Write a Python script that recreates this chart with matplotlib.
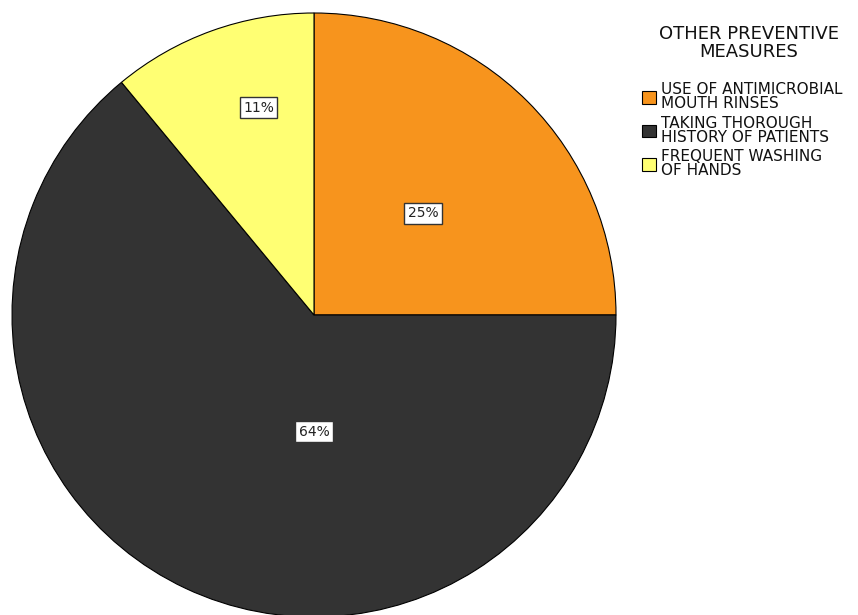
import matplotlib
matplotlib.use("Agg")
import matplotlib.pyplot as plt
import numpy as np

categories = ["USE OF ANTIMICROBIAL\nMOUTH RINSES",
              "TAKING THOROUGH\nHISTORY OF PATIENTS",
              "FREQUENT WASHING\nOF HANDS"]
values = [25, 64, 11]
pct_labels = ["25%", "64%", "11%"]
colors = ["#F7941D", "#333333", "#FFFF73"]

W, H = 858, 615
fig = plt.figure(figsize=(W / 100, H / 100), dpi=100)
cx, cy, r = 314, 315, 302
ax = fig.add_axes([(cx - r) / W, (H - cy - r) / H, 2 * r / W, 2 * r / H])
wedges, _ = ax.pie(values, colors=colors, startangle=90, counterclock=False,
                   radius=1, wedgeprops=dict(edgecolor="black", linewidth=0.8))
ax.set_xlim(-1, 1)
ax.set_ylim(-1, 1)
ax.set_aspect("equal")
ax.axis("off")

# label positions (angle in degrees, radius fraction)
label_pos = [(43, 0.494), (-90, 0.387), (105, 0.71)]
for txt, (ang, rad) in zip(pct_labels, label_pos):
    a = np.deg2rad(ang)
    ax.text(rad * np.cos(a), rad * np.sin(a), txt, ha="center", va="center",
            fontsize=10, family="DejaVu Sans", color="#222222",
            bbox=dict(boxstyle="square,pad=0.25", facecolor="white",
                      edgecolor="#333333", linewidth=1.0))

fig.text(749 / W, 1 - 43 / H, "OTHER PREVENTIVE\nMEASURES", ha="center",
         va="center", fontsize=13, linespacing=1.0, color="#111111")
leg = fig.legend(wedges, categories, loc="upper left",
                 bbox_to_anchor=(642 / W, 1 - 82 / H), frameon=False,
                 fontsize=11, handlelength=0.9, handleheight=0.9,
                 handletextpad=0.35, labelspacing=0.3, borderaxespad=0,
                 borderpad=0)
for t in leg.get_texts():
    t.set_linespacing(0.92)
    t.set_color("#111111")
fig.savefig("out.png", dpi=100)
